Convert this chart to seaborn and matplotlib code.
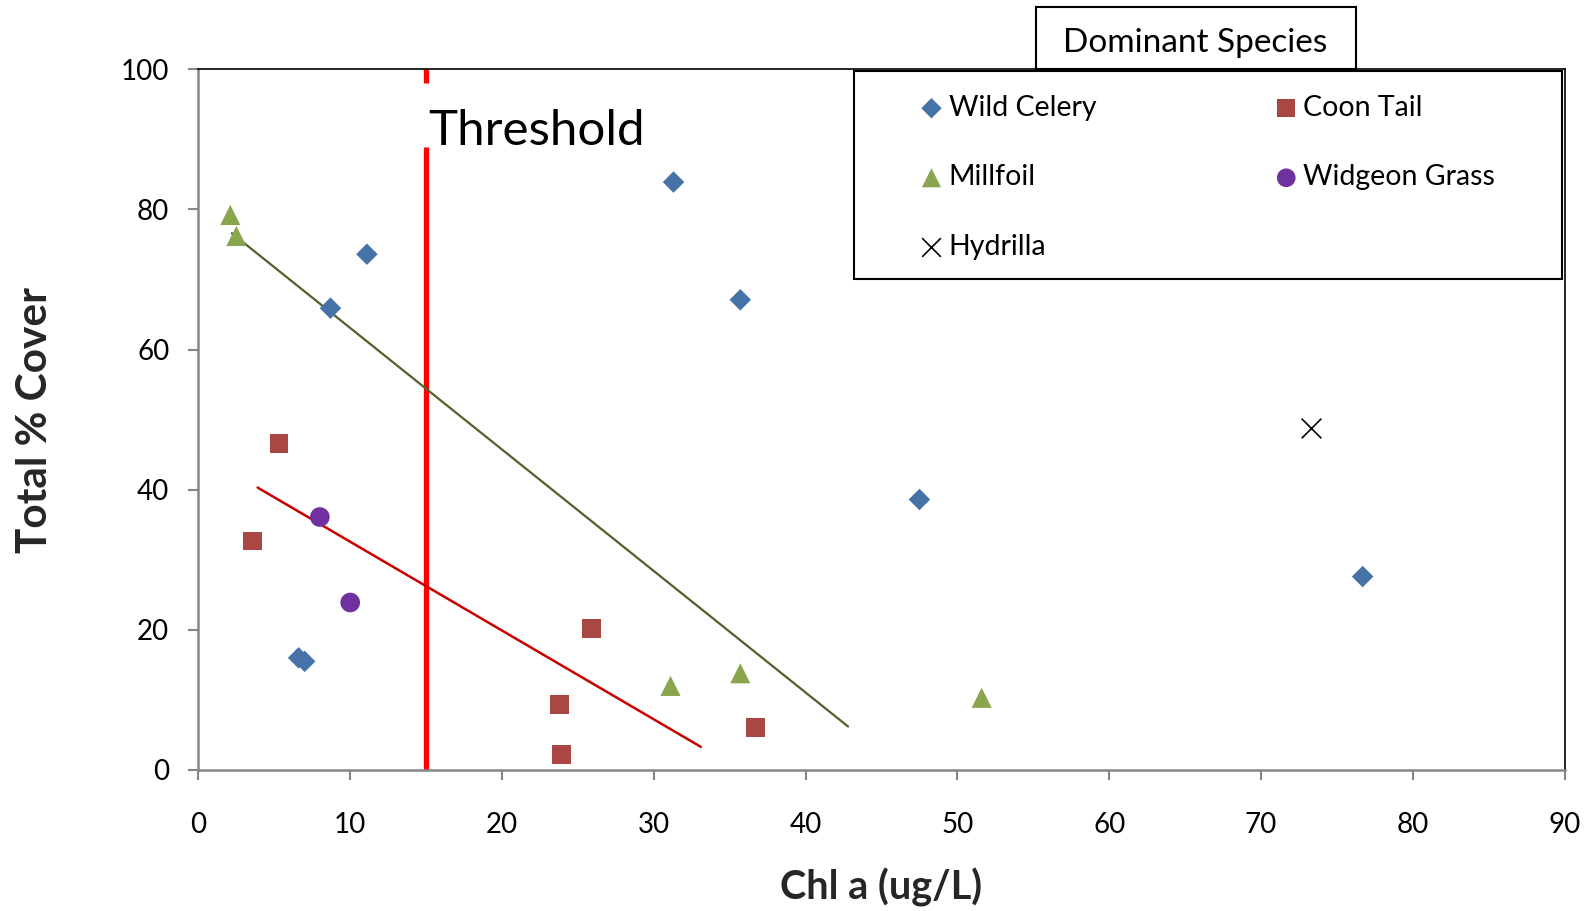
import pandas as pd
import matplotlib.pyplot as plt
from matplotlib.patches import Rectangle
import seaborn as sns

# --- DATA ---
wild_celery_x = [31.3, 11.1, 8.7, 35.7, 47.5, 76.7, 6.6, 7.0]
wild_celery_y = [83.9, 73.6, 65.9, 67.1, 38.6, 27.6, 16.0, 15.5]

coon_tail_x = [5.3, 3.55, 25.9, 23.8, 23.9, 36.7]
coon_tail_y = [46.6, 32.7, 20.2, 9.3, 2.2, 6.1]

millfoil_x = [2.1, 2.5, 31.1, 35.7, 51.6]
millfoil_y = [79.2, 76.2, 12.0, 13.8, 10.3]

widgeon_x = [8.0, 10.0]
widgeon_y = [36.1, 23.9]

hydrilla_x = [73.3]
hydrilla_y = [48.8]

# trend lines (end points)
millfoil_trend_x = [2.2, 42.8]
millfoil_trend_y = [76.6, 6.2]
coon_trend_x = [3.9, 33.1]
coon_trend_y = [40.3, 3.3]

threshold_x = 15
# the threshold line is broken where its label sits
threshold_gap = (88.9, 98.0)

x_ticks = list(range(0, 91, 10))
y_ticks = list(range(0, 101, 20))

species = ['Wild Celery', 'Coon Tail', 'Millfoil', 'Widgeon Grass', 'Hydrilla']
colors = {'Wild Celery': '#4572A7', 'Coon Tail': '#AA4643', 'Millfoil': '#89A54E',
          'Widgeon Grass': '#7030A0', 'Hydrilla': 'black'}
markers = {'Wild Celery': 'D', 'Coon Tail': 's', 'Millfoil': '^',
           'Widgeon Grass': 'o', 'Hydrilla': 'x'}
sizes = {'Wild Celery': 120, 'Coon Tail': 180, 'Millfoil': 210,
         'Widgeon Grass': 200, 'Hydrilla': 200}

frames = []
for name, xs, ys in [('Wild Celery', wild_celery_x, wild_celery_y),
                     ('Coon Tail', coon_tail_x, coon_tail_y),
                     ('Millfoil', millfoil_x, millfoil_y),
                     ('Widgeon Grass', widgeon_x, widgeon_y),
                     ('Hydrilla', hydrilla_x, hydrilla_y)]:
    frames.append(pd.DataFrame({'species': name, 'chl': xs, 'cover': ys}))
df = pd.concat(frames, ignore_index=True)

# --- STYLE ---
sns.set_theme(style='white')
plt.rcParams['font.family'] = ['Lato', 'DejaVu Sans']
plt.rcParams['text.color'] = 'black'

fig = plt.figure(figsize=(15.95, 9.11), dpi=100)
ax = fig.add_axes([0.1244, 0.1548, 0.8565, 0.7692])

# trend lines + threshold
ax.plot(millfoil_trend_x, millfoil_trend_y, color='#4F6228', lw=1.6, zorder=2)
ax.plot(coon_trend_x, coon_trend_y, color='#CC0000', lw=1.8, zorder=2)
ax.vlines([threshold_x, threshold_x], [0, threshold_gap[1]], [threshold_gap[0], 100],
          color='#FF0000', lw=3.8, zorder=1)
ax.text(threshold_x + 0.15, 89.2, 'Threshold', fontsize=35.5, ha='left', va='baseline', zorder=3)

# scatter per species
for name in species:
    sub = df[df['species'] == name]
    kw = dict(edgecolor='none') if name != 'Hydrilla' else dict(linewidth=1.2)
    sns.scatterplot(data=sub, x='chl', y='cover', ax=ax, color=colors[name],
                    marker=markers[name], s=sizes[name], label=name, legend=False,
                    zorder=4, **kw)

ax.set_xlim(0, 90)
ax.set_ylim(0, 100)
ax.set_xticks(x_ticks)
ax.set_yticks(y_ticks)

for side in ['left', 'bottom']:
    ax.spines[side].set_color('#868686')
    ax.spines[side].set_linewidth(1.8)
for side in ['top', 'right']:
    ax.spines[side].set_color('black')
    ax.spines[side].set_linewidth(1.2)

ax.tick_params(axis='both', direction='out', length=7, width=1.5, color='#868686',
               labelsize=20, labelcolor='black', left=True, bottom=True)
ax.tick_params(axis='y', pad=14)
ax.tick_params(axis='x', pad=23)

ax.set_xlabel('Chl a (ug/L)', fontsize=28.5, fontweight='bold')
ax.set_ylabel('Total % Cover', fontsize=30.5, fontweight='bold')
ax.xaxis.set_label_coords(0.5, -0.14)
ax.yaxis.set_label_coords(-0.106, 0.5)

# --- LEGEND (boxed, with separate title box) ---
ax.add_patch(Rectangle((0.480, 0.700), 0.518, 0.297, transform=ax.transAxes,
                       facecolor='white', edgecolor='black', lw=1.5,
                       clip_on=False, zorder=5))
ax.add_patch(Rectangle((0.6128, 1.0), 0.2346, 0.0886, transform=ax.transAxes,
                       facecolor='white', edgecolor='black', lw=1.5,
                       clip_on=False, zorder=5))
ax.text(0.7295, 1.037, 'Dominant Species', transform=ax.transAxes, fontsize=24,
        ha='center', va='center', zorder=6)

handles, labels = ax.get_legend_handles_labels()
lookup = dict(zip(labels, handles))
col1 = ['Wild Celery', 'Millfoil', 'Hydrilla']
col2 = ['Coon Tail', 'Widgeon Grass']
leg_kw = dict(loc='upper left', frameon=False, fontsize=20.5, borderpad=0,
              handlelength=0.9, handletextpad=0.15, labelspacing=1.53,
              markerscale=0.95)
leg1 = ax.legend([lookup[n] for n in col1], col1, bbox_to_anchor=(0.5168, 0.984), **leg_kw)
leg1.set_zorder(7)
ax.add_artist(leg1)
leg2 = ax.legend([lookup[n] for n in col2], col2, bbox_to_anchor=(0.7765, 0.984), **leg_kw)
leg2.set_zorder(7)

fig.savefig('out.png', dpi=100)
